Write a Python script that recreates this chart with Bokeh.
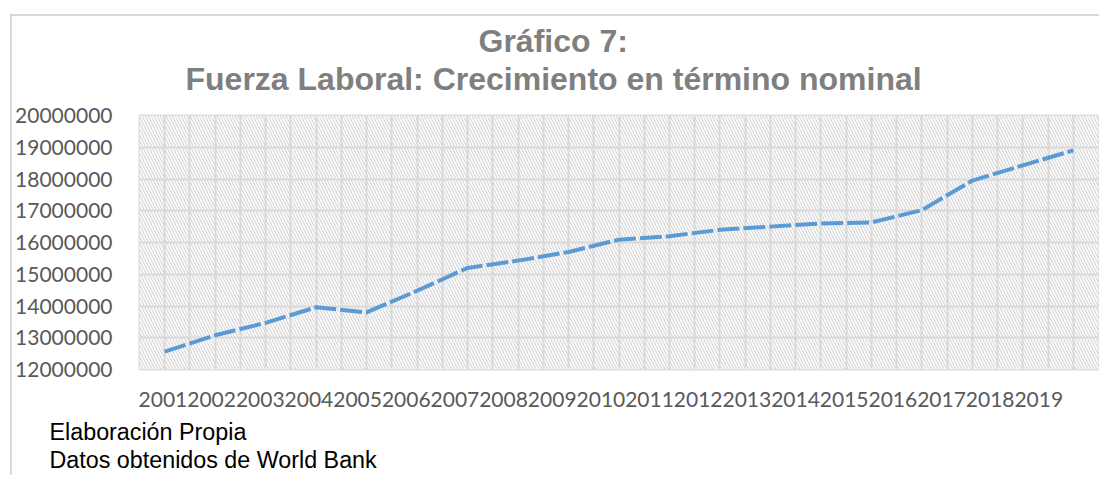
from bokeh.plotting import figure
from bokeh.models import (Range1d, FixedTicker, LinearAxis, BoxAnnotation,
                          Grid, BasicTickFormatter, Title)
from bokeh.embed import file_html
from bokeh.resources import INLINE

# ---------------- data ----------------
years = [2001, 2002, 2003, 2004, 2005, 2006, 2007, 2008, 2009, 2010,
         2011, 2012, 2013, 2014, 2015, 2016, 2017, 2018, 2019]
labor_force = [12560000, 13080000, 13470000, 13960000, 13800000, 14480000,
               15200000, 15430000, 15700000, 16090000, 16200000, 16400000,
               16500000, 16600000, 16630000, 17020000, 17950000, 18430000,
               18900000]
y_ticks = [12000000, 13000000, 14000000, 15000000, 16000000, 17000000,
           18000000, 19000000, 20000000]
title_lines = ["Gráfico 7:", "Fuerza Laboral: Crecimiento en término nominal"]
notes = ["Elaboración Propia", "Datos obtenidos de World Bank"]

# ---------------- layout ----------------
OX, OY, BW = 10, 14, 2                    # figure offset on page, border width
W, H = 1101 - OX - BW, 477 - OY - BW
CX, CY = OX + BW, OY + BW                 # content origin on page
PL, PR, PT, PB = 137, 1098, 115, 369      # frame edges on page
FL, FR, FT, FB = PL - CX, PR - CX, PT - CY, PB - CY
fw = FR - FL

x0, x1 = years[0] - 0.5, years[-1] + 0.5
y0, y1 = y_ticks[0], y_ticks[-1]

GRID = "#d9d9d9"
TICK_COLOR = "#595959"
TICK_FONT = "Lato"
TICK_SIZE = "21px"

p = figure(width=W, height=H, output_backend="svg", toolbar_location=None,
           x_range=Range1d(x0, x1), y_range=Range1d(y0, y1),
           x_axis_location=None, y_axis_location="left",
           min_border_left=FL, min_border_right=W - FR,
           min_border_top=FT, min_border_bottom=H - FB,
           background_fill_color="white", border_fill_color="white")
p.margin = (OY, 0, 0, OX)
p.styles = {"border-left": f"{BW}px solid {GRID}",
            "border-top": f"{BW}px solid {GRID}"}
p.outline_line_color = GRID
p.outline_line_width = 2

# hatched plot background
p.add_layout(BoxAnnotation(left=x0, right=x1, bottom=y0, top=y1,
                           fill_color="white", fill_alpha=1.0,
                           hatch_pattern="\\", hatch_color="#d9d9d9",
                           hatch_scale=6, hatch_weight=1.3,
                           line_alpha=0, level="image"))

# grids
p.ygrid.ticker = FixedTicker(ticks=y_ticks)
p.ygrid.grid_line_color = GRID
p.ygrid.grid_line_width = 2
xg_ticks = [y - 0.5 for y in years] + [years[-1] + 0.5] + list(years)
p.add_layout(Grid(dimension=0, ticker=FixedTicker(ticks=xg_ticks),
                  grid_line_color=GRID, grid_line_width=2))

# y axis
ya = p.yaxis[0]
ya.ticker = FixedTicker(ticks=y_ticks)
ya.formatter = BasicTickFormatter(use_scientific=False)
ya.axis_line_color = None
ya.major_tick_line_color = None
ya.minor_tick_line_color = None
ya.major_label_standoff = 21
ya.major_label_text_font = TICK_FONT
ya.major_label_text_font_size = TICK_SIZE
ya.major_label_text_color = TICK_COLOR

# compressed category labels (as in the original)
pitch = 48.76
first_center_px = 160.5
lab_start = years[0] - (first_center_px - PL) / pitch
p.extra_x_ranges = {"labels": Range1d(lab_start, lab_start + fw / pitch)}
xa = LinearAxis(x_range_name="labels", ticker=FixedTicker(ticks=years),
                formatter=BasicTickFormatter(use_scientific=False),
                axis_line_color=None, major_tick_line_color=None,
                minor_tick_line_color=None, major_label_standoff=16,
                major_label_text_font=TICK_FONT,
                major_label_text_font_size=TICK_SIZE,
                major_label_text_color=TICK_COLOR)
p.add_layout(xa, "below")

# data line
p.line(x=years, y=labor_force, line_color="#5b9bd5", line_width=4,
       line_dash="22 4")

# ---- title: spacer nearest to the frame, then line 2, then line 1 ----
p.add_layout(Title(text=" ", text_font_size="1px", standoff=16), "above")
title_style = dict(align="left", text_font="Liberation Sans",
                   text_font_style="bold", text_font_size="32px",
                   text_color="#7f7f7f", standoff=0)
p.add_layout(Title(text=title_lines[1], offset=46, **title_style), "above")
p.add_layout(Title(text=title_lines[0], offset=339, **title_style), "above")

# ---- notes below: spacer, then the two lines ----
p.add_layout(Title(text=" ", text_font_size="1px", standoff=4), "below")
note_style = dict(align="left", text_font="Liberation Sans",
                  text_font_style="normal", text_font_size="23.3px",
                  text_color="#000000", standoff=0)
for txt in notes:
    p.add_layout(Title(text=txt, offset=47 - PL, **note_style), "below")

open("out.html", "w").write(file_html(p, INLINE))
